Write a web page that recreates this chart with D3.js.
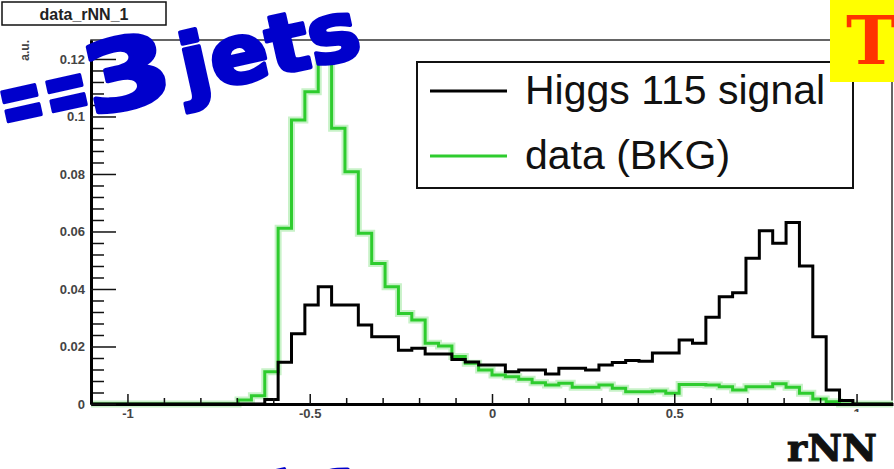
<!DOCTYPE html>
<html>
<head>
<meta charset="utf-8">
<script src="https://cdn.jsdelivr.net/npm/d3@7"></script>
<style>
  body { margin: 0; background: #fff; }
  svg { display: block; }
</style>
</head>
<body>
<svg id="chart" width="894" height="469"></svg>
<script>
// histogram binning (ROOT style, 60 bins on [-1.1, 1.1])
const binCount = 60;
const rangeMin = -1.1;
const rangeMax = 1.1;

// bin contents
const signalVals = [0,0,0,0,0,0,0,0,0,0,0,0,0,
  0.0016,0.0145,0.0244,0.0344,0.0408,0.0344,0.0344,0.0275,0.0234,0.0234,
  0.0187,0.0194,0.0174,0.0174,0.0155,0.0146,0.0136,0.0136,0.0112,0.0118,
  0.0118,0.0104,0.0124,0.0124,0.0118,0.0136,0.0144,0.0151,0.0149,0.0177,
  0.0177,0.0223,0.0211,0.0302,0.0373,0.0387,0.0507,0.0603,0.0559,0.0631,
  0.048,0.0234,0.0049,0.0012,0,0,0];

const bkgVals = [0,0,0,0,0,0,0,0,0,0,0,
  0.0014,0.0029,0.0112,0.0611,0.0988,0.1086,0.1191,0.0959,0.0808,0.0594,
  0.0489,0.0408,0.0315,0.0292,0.0211,0.0202,0.0165,0.0142,0.0118,0.0101,
  0.0095,0.0086,0.0074,0.0066,0.0072,0.0058,0.0058,0.0066,0.0055,0.0043,
  0.0043,0.0045,0.0037,0.0068,0.0068,0.0066,0.006,0.0049,0.006,0.006,
  0.007,0.0058,0.0037,0.0017,0.0008,0,0,0,0];

const xMajorTicks = [-1, -0.5, 0, 0.5, 1];
const xMinorTicks = [-0.9,-0.8,-0.7,-0.6,-0.4,-0.3,-0.2,-0.1,0.1,0.2,0.3,0.4,0.6,0.7,0.8,0.9];
const yMajorTicks = [0, 0.02, 0.04, 0.06, 0.08, 0.1, 0.12];
const yMinorTicks = [0.004,0.008,0.012,0.016,0.024,0.028,0.032,0.036,0.044,0.048,0.052,0.056,
  0.064,0.068,0.072,0.076,0.084,0.088,0.092,0.096,0.104,0.108,0.112,0.116,0.124];

const seriesNames = ["Higgs 115 signal", "data (BKG)"];
const seriesColors = ["#000000", "#2ecc2e"];
const histTitle = "data_rNN_1";
const yTitle = "a.u.";
const xTitle = "rNN";

const svg = d3.select("#chart");

var xScale = d3.scaleLinear()
  .domain([rangeMin, rangeMax])
  .range([91, 893]);

var yScale = d3.scaleLinear()
  .domain([0, 0.1266])
  .range([404, 40]);

// ###########################################
// frame
svg.append("rect")
  .attr("x", 91).attr("y", 40)
  .attr("width", 801).attr("height", 364)
  .attr("fill", "none")
  .attr("stroke", "#333")
  .attr("stroke-width", 1.5);

// ###########################################
// histograms (step lines)
const binW = (rangeMax - rangeMin) / binCount;
function stepPoints(vals) {
  const pts = vals.map((v, i) => [rangeMin + i * binW, v]);
  pts.push([rangeMax, vals[vals.length - 1]]);
  return pts;
}
const stepLine = d3.line()
  .x(d => xScale(d[0]))
  .y(d => yScale(d[1]))
  .curve(d3.curveStepAfter);

// soft halo under the green, like the jpeg bleed
svg.append("path")
  .attr("d", stepLine(stepPoints(bkgVals)))
  .attr("fill", "none")
  .attr("stroke", "#c8f2c8")
  .attr("stroke-width", 7);

[bkgVals, signalVals].forEach((vals, i) => {
  svg.append("path")
    .attr("class", "hist")
    .attr("d", stepLine(stepPoints(vals)))
    .attr("fill", "none")
    .attr("stroke", i === 0 ? seriesColors[1] : seriesColors[0])
    .attr("stroke-width", 3)
    .attr("stroke-linejoin", "miter");
});

// ###########################################
// axes
svg.append("g")
  .attr("transform", "translate(0,404)")
  .call(d3.axisBottom(xScale).tickValues(xMinorTicks).tickSize(-6).tickSizeOuter(0).tickFormat(""))
  .call(g => g.select(".domain").remove())
  .selectAll("line").attr("stroke", "#111").attr("stroke-width", 1.5);

const xAx = svg.append("g")
  .attr("transform", "translate(0,404)")
  .call(d3.axisBottom(xScale).tickValues(xMajorTicks).tickSize(-10).tickSizeOuter(0)
    .tickFormat(d => String(d)));
xAx.select(".domain").attr("stroke", "#000").attr("stroke-width", 3);
xAx.selectAll("line").attr("stroke", "#111").attr("stroke-width", 1.5);
xAx.selectAll("text")
  .attr("y", 5)
  .attr("dy", "0.71em")
  .style("font-family", "'Liberation Sans', Arial, sans-serif")
  .style("font-weight", "bold")
  .style("font-size", "13px")
  .attr("fill", "#444");

svg.append("g")
  .attr("transform", "translate(91,0)")
  .call(d3.axisLeft(yScale).tickValues(yMinorTicks).tickSize(-13).tickSizeOuter(0).tickFormat(""))
  .call(g => g.select(".domain").remove())
  .selectAll("line").attr("stroke", "#111").attr("stroke-width", 1.5);

const yAx = svg.append("g")
  .attr("transform", "translate(91,0)")
  .call(d3.axisLeft(yScale).tickValues(yMajorTicks).tickSize(-25).tickSizeOuter(0)
    .tickFormat(d => String(+d.toFixed(2))));
yAx.select(".domain").attr("stroke", "#000").attr("stroke-width", 3);
yAx.selectAll("line").attr("stroke", "#111").attr("stroke-width", 1.5);
yAx.selectAll("text")
  .attr("x", -6)
  .style("font-family", "'Liberation Sans', Arial, sans-serif")
  .style("font-weight", "bold")
  .style("font-size", "13px")
  .attr("fill", "#444");

// y title
svg.append("text")
  .attr("transform", "translate(29,40) rotate(-90)")
  .attr("text-anchor", "end")
  .style("font-family", "'Liberation Sans', Arial, sans-serif")
  .style("font-weight", "bold")
  .style("font-size", "12px")
  .attr("fill", "#444")
  .text(yTitle);

// ###########################################
// title box
svg.append("rect")
  .attr("x", 2).attr("y", 2).attr("width", 164).attr("height", 23)
  .attr("fill", "#fff").attr("stroke", "#111").attr("stroke-width", 1.5);
svg.append("text")
  .attr("x", 84).attr("y", 20)
  .attr("text-anchor", "middle")
  .style("font-family", "'Liberation Sans', Arial, sans-serif")
  .style("font-weight", "bold")
  .style("font-size", "16px")
  .attr("fill", "#222")
  .text(histTitle);

// ###########################################
// legend
const legend = svg.append("g");
legend.append("rect")
  .attr("x", 417).attr("y", 62).attr("width", 436).attr("height", 126)
  .attr("fill", "#fff").attr("stroke", "#111").attr("stroke-width", 2);
seriesNames.forEach((name, i) => {
  const ly = 91 + i * 65;
  legend.append("line")
    .attr("x1", 430).attr("x2", 507).attr("y1", ly).attr("y2", ly)
    .attr("stroke", seriesColors[i]).attr("stroke-width", 3);
  legend.append("text")
    .attr("x", 525).attr("y", ly + 13)
    .style("font-family", "'Liberation Sans', Arial, sans-serif")
    .style("font-size", "41px")
    .attr("fill", "#111")
    .text(name);
});

// ###########################################
// white patch behind the x title (hides most of the "1" label)
svg.append("rect")
  .attr("x", 775).attr("y", 412).attr("width", 119).attr("height", 57)
  .attr("fill", "#fff");
svg.append("text")
  .attr("x", 787).attr("y", 461)
  .attr("textLength", 90)
  .attr("lengthAdjust", "spacingAndGlyphs")
  .style("font-family", "'DejaVu Serif', serif")
  .style("font-weight", "bold")
  .style("font-size", "38px")
  .attr("fill", "#111")
  .attr("stroke", "#111")
  .attr("stroke-width", 1)
  .text(xTitle);

// ###########################################
// overlaid slide annotations
svg.append("rect")
  .attr("x", 830).attr("y", 0).attr("width", 64).attr("height", 82)
  .attr("fill", "#ffff00");
svg.append("text")
  .attr("x", 846).attr("y", 64)
  .style("font-family", "'DejaVu Serif', serif")
  .style("font-weight", "bold")
  .style("font-size", "68px")
  .attr("fill", "#ff3300")
  .text("T");

function jetsLabel(tx, ty, num) {
  const g = svg.append("g")
    .attr("transform", `translate(${tx},${ty}) rotate(-12.5)`)
    .style("font-family", "'DejaVu Sans', sans-serif")
    .style("font-weight", "bold")
    .attr("fill", "#0000cc")
    .attr("stroke", "#0000cc")
    .attr("stroke-width", 4)
    .attr("stroke-linejoin", "round");
  g.append("text").attr("x", 0).attr("y", 0)
    .attr("textLength", 92).attr("lengthAdjust", "spacingAndGlyphs")
    .style("font-size", "88px").text("==");
  g.append("text").attr("x", 88).attr("y", 0)
    .attr("textLength", 88).attr("lengthAdjust", "spacingAndGlyphs")
    .style("font-size", "96px").text(num);
  g.append("text").attr("x", 186).attr("y", 0)
    .attr("textLength", 182).attr("lengthAdjust", "spacingAndGlyphs")
    .style("font-size", "82px").text("jets");
}
jetsLabel(5, 135, "3");
jetsLabel(5, 590, "2");
</script>
</body>
</html>
